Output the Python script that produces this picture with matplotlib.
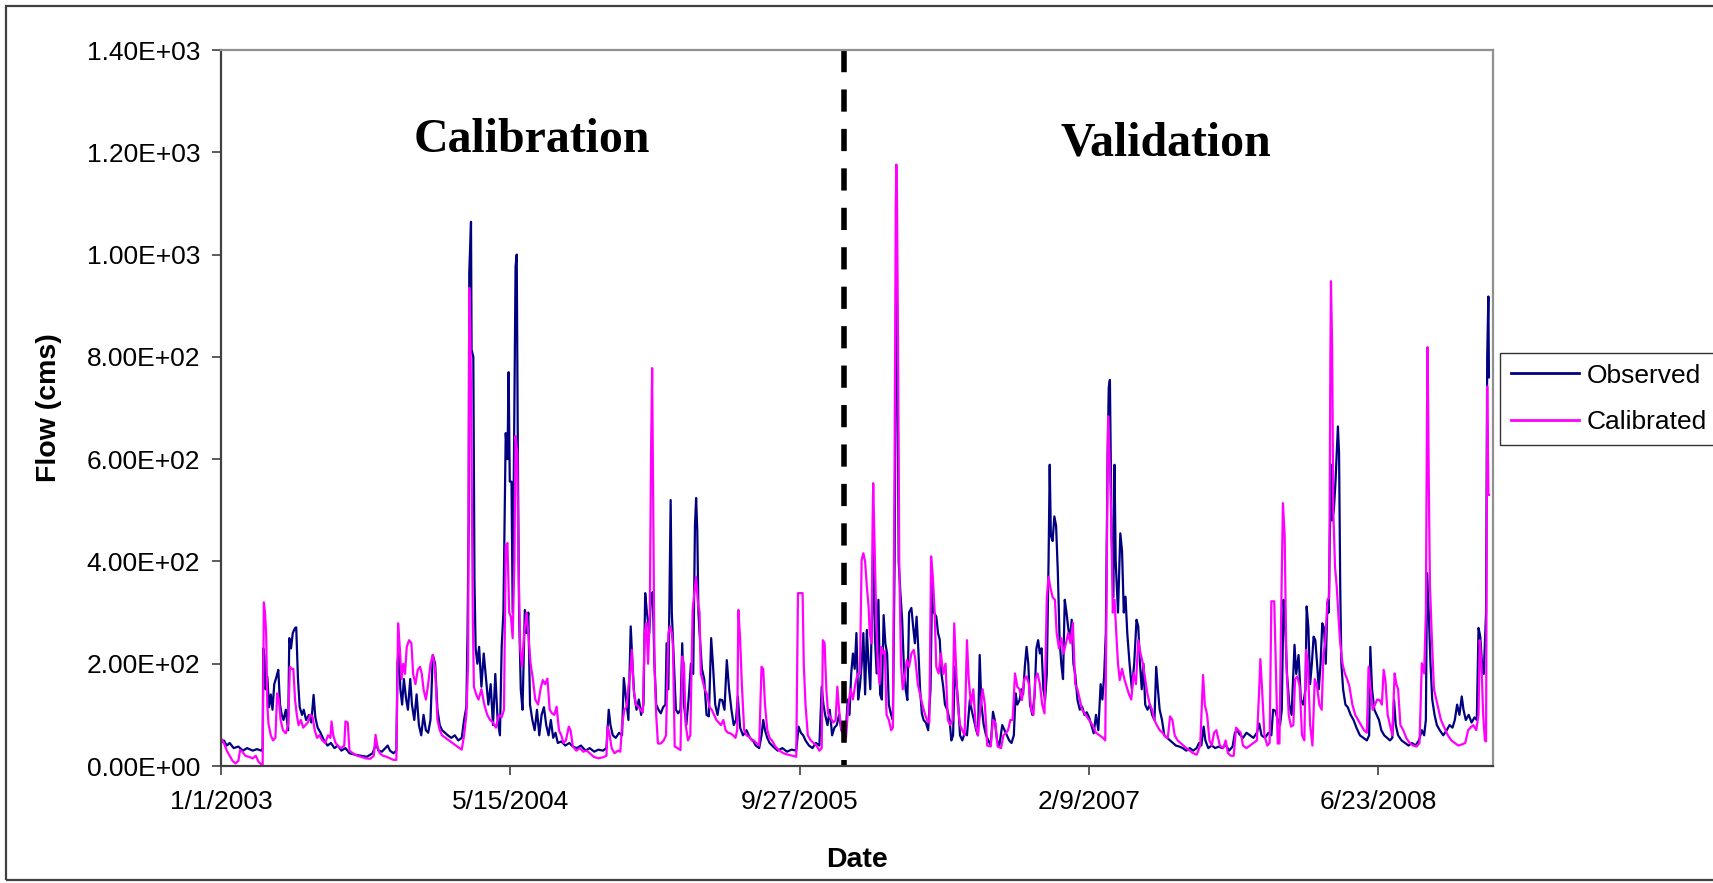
import pandas as pd
from matplotlib import pyplot as plt
from matplotlib.patches import Rectangle
from matplotlib.ticker import FuncFormatter

# Daily flow (cms), as (days since 1/1/2003, flow) pairs
observed = [
    (0, 45), (5, 50), (10, 40), (15, 45), (22, 35), (30, 38), (38, 30), (45, 35), (55, 30), (62, 33),
    (70, 30), (72, 35), (73, 230), (75, 215), (77, 150), (80, 175), (83, 115), (86, 140), (89, 110), (92, 160),
    (96, 175), (99, 188), (102, 120), (105, 100), (108, 90), (112, 110), (116, 70), (118, 250), (121, 230), (124, 260),
    (128, 270), (130, 271), (133, 170), (136, 115), (140, 100), (143, 110), (147, 90), (152, 100), (156, 85), (160, 139),
    (163, 95), (167, 75), (172, 65), (178, 50), (184, 40), (190, 45), (196, 35), (202, 40), (208, 30), (215, 35),
    (222, 25), (232, 22), (242, 20), (252, 18), (262, 25), (268, 44), (272, 30), (278, 28), (284, 35), (288, 40),
    (292, 30), (298, 25), (303, 30), (305, 200), (307, 230), (310, 150), (313, 120), (316, 170), (320, 130), (323, 110),
    (327, 170), (330, 120), (334, 90), (338, 140), (342, 80), (346, 60), (350, 100), (354, 70), (358, 65), (362, 90),
    (366, 217), (370, 200), (374, 110), (378, 80), (382, 70), (387, 65), (392, 60), (398, 55), (404, 60), (410, 50),
    (416, 55), (420, 90), (424, 115), (426, 260), (428, 480), (429, 965), (432, 1064), (433, 814), (436, 800), (438, 364),
    (440, 230), (443, 200), (446, 233), (450, 155), (454, 220), (458, 170), (462, 120), (466, 160), (470, 80), (474, 180),
    (478, 90), (482, 60), (485, 233), (488, 300), (492, 651), (495, 600), (497, 770), (499, 556), (502, 556), (504, 300),
    (507, 700), (509, 977), (511, 1000), (513, 600), (515, 305), (518, 150), (521, 110), (525, 305), (528, 260), (531, 300),
    (534, 120), (538, 90), (542, 70), (546, 110), (550, 60), (554, 100), (558, 115), (562, 80), (566, 60), (570, 90),
    (574, 55), (578, 65), (582, 45), (588, 48), (595, 40), (602, 45), (608, 38), (615, 35), (622, 40), (630, 30),
    (637, 35), (645, 28), (652, 32), (660, 30), (666, 35), (670, 110), (673, 80), (677, 60), (682, 55), (688, 65),
    (693, 60), (696, 172), (700, 130), (704, 90), (708, 273), (711, 200), (714, 140), (718, 110), (722, 130), (726, 100),
    (730, 120), (733, 338), (736, 300), (740, 260), (743, 330), (746, 340), (749, 200), (752, 120), (756, 110), (760, 103),
    (764, 115), (768, 120), (770, 240), (773, 150), (777, 520), (779, 300), (782, 220), (786, 110), (790, 103), (794, 110),
    (797, 240), (800, 120), (804, 80), (808, 130), (812, 200), (816, 180), (819, 470), (821, 524), (823, 460), (825, 300),
    (827, 260), (831, 190), (835, 170), (839, 100), (843, 97), (847, 250), (850, 200), (854, 120), (858, 100), (862, 130),
    (866, 129), (870, 110), (874, 207), (878, 150), (882, 110), (886, 80), (890, 90), (893, 136), (897, 75), (902, 60),
    (908, 70), (914, 55), (919, 50), (924, 40), (930, 35), (934, 60), (937, 90), (940, 70), (944, 55), (948, 45),
    (954, 38), (962, 30), (970, 35), (978, 28), (986, 32), (994, 30), (998, 77), (1002, 65), (1006, 60), (1010, 50),
    (1016, 40), (1022, 35), (1028, 45), (1034, 40), (1038, 155), (1041, 120), (1044, 100), (1048, 80), (1052, 110), (1056, 60),
    (1060, 75), (1064, 80), (1068, 100), (1072, 70), (1076, 64), (1080, 75), (1083, 130), (1086, 100), (1089, 181), (1092, 220),
    (1095, 190), (1098, 260), (1101, 130), (1104, 155), (1107, 200), (1110, 260), (1113, 140), (1116, 266), (1119, 200), (1122, 150),
    (1125, 300), (1127, 429), (1130, 250), (1133, 181), (1136, 325), (1139, 140), (1142, 130), (1145, 295), (1148, 240), (1151, 220),
    (1154, 120), (1158, 100), (1161, 90), (1164, 400), (1166, 834), (1167, 1033), (1169, 801), (1171, 400), (1174, 338), (1177, 286),
    (1180, 194), (1183, 150), (1186, 129), (1189, 300), (1193, 309), (1196, 273), (1199, 240), (1202, 292), (1205, 227), (1208, 150),
    (1211, 103), (1214, 90), (1218, 85), (1222, 70), (1226, 150), (1229, 370), (1232, 300), (1236, 292), (1239, 260), (1242, 247),
    (1245, 180), (1248, 155), (1251, 120), (1255, 110), (1259, 90), (1262, 50), (1265, 60), (1268, 194), (1271, 160), (1274, 120),
    (1277, 60), (1281, 50), (1285, 64), (1289, 60), (1294, 129), (1297, 110), (1301, 90), (1305, 70), (1308, 60), (1311, 217),
    (1314, 120), (1318, 80), (1322, 60), (1326, 50), (1330, 40), (1334, 106), (1337, 90), (1341, 50), (1345, 40), (1350, 80),
    (1354, 70), (1358, 60), (1362, 50), (1366, 45), (1370, 60), (1373, 142), (1376, 120), (1380, 129), (1383, 150), (1386, 140),
    (1389, 194), (1392, 233), (1395, 200), (1398, 120), (1402, 100), (1406, 140), (1409, 230), (1412, 246), (1415, 220), (1418, 230),
    (1421, 150), (1424, 129), (1427, 180), (1430, 400), (1432, 589), (1434, 450), (1437, 440), (1440, 488), (1443, 470), (1446, 380),
    (1449, 250), (1452, 200), (1455, 170), (1458, 325), (1461, 300), (1464, 270), (1467, 246), (1470, 286), (1473, 200), (1476, 180),
    (1480, 129), (1484, 110), (1488, 116), (1492, 100), (1496, 105), (1500, 95), (1504, 80), (1508, 64), (1512, 100), (1516, 70),
    (1520, 160), (1523, 130), (1526, 175), (1529, 260), (1532, 600), (1534, 740), (1536, 755), (1539, 450), (1542, 330), (1544, 589),
    (1546, 400), (1550, 300), (1554, 455), (1557, 420), (1560, 300), (1563, 331), (1566, 260), (1570, 200), (1574, 150), (1578, 200),
    (1582, 286), (1585, 273), (1588, 200), (1591, 150), (1594, 200), (1597, 120), (1601, 110), (1605, 120), (1609, 100), (1613, 90),
    (1616, 194), (1619, 150), (1622, 110), (1626, 90), (1630, 60), (1635, 55), (1640, 50), (1645, 45), (1650, 40), (1656, 38),
    (1662, 35), (1668, 30), (1674, 35), (1680, 30), (1686, 35), (1690, 45), (1694, 40), (1698, 77), (1701, 50), (1706, 35),
    (1712, 40), (1718, 35), (1724, 38), (1730, 35), (1736, 42), (1742, 30), (1748, 38), (1752, 65), (1756, 70), (1760, 62),
    (1766, 55), (1772, 65), (1778, 60), (1784, 55), (1790, 65), (1794, 83), (1798, 60), (1804, 55), (1810, 65), (1815, 60),
    (1818, 110), (1822, 108), (1826, 90), (1830, 80), (1833, 110), (1836, 325), (1839, 273), (1842, 180), (1846, 120), (1850, 100),
    (1855, 237), (1858, 180), (1862, 217), (1866, 130), (1870, 120), (1874, 150), (1876, 312), (1879, 270), (1882, 160), (1885, 200),
    (1888, 253), (1891, 246), (1894, 200), (1897, 150), (1900, 200), (1903, 279), (1906, 270), (1909, 200), (1912, 320), (1914, 300),
    (1916, 450), (1918, 589), (1920, 480), (1923, 500), (1926, 560), (1930, 664), (1932, 612), (1934, 350), (1936, 200), (1939, 150),
    (1943, 120), (1947, 115), (1952, 100), (1957, 90), (1962, 75), (1968, 60), (1974, 55), (1980, 50), (1984, 60), (1986, 233),
    (1989, 150), (1993, 110), (1997, 100), (2001, 90), (2005, 70), (2010, 60), (2015, 55), (2020, 50), (2024, 55), (2027, 129),
    (2030, 80), (2034, 60), (2040, 50), (2046, 45), (2052, 40), (2058, 45), (2064, 40), (2070, 50), (2075, 70), (2079, 60),
    (2082, 90), (2084, 377), (2087, 300), (2090, 200), (2093, 130), (2097, 100), (2101, 80), (2106, 70), (2112, 60), (2118, 70),
    (2123, 80), (2128, 75), (2132, 90), (2136, 120), (2140, 100), (2144, 136), (2147, 110), (2151, 90), (2156, 100), (2161, 85),
    (2166, 95), (2170, 90), (2173, 270), (2176, 253), (2179, 200), (2182, 180), (2186, 300), (2188, 800), (2190, 918), (2191, 760),
]

calibrated = [
    (0, 54), (5, 45), (10, 30), (15, 20), (20, 10), (25, 5), (30, 10), (33, 31), (37, 28), (42, 20),
    (48, 18), (55, 15), (60, 20), (65, 8), (70, 3), (72, 2), (74, 320), (76, 300), (78, 260), (80, 120),
    (82, 83), (86, 60), (90, 50), (94, 55), (97, 142), (100, 130), (103, 90), (107, 70), (112, 64), (116, 80),
    (119, 194), (122, 190), (125, 190), (128, 129), (131, 100), (134, 80), (138, 90), (142, 75), (146, 80), (150, 85),
    (154, 100), (158, 97), (162, 70), (166, 55), (170, 60), (175, 50), (180, 45), (185, 60), (189, 55), (191, 87),
    (194, 60), (198, 45), (203, 38), (208, 35), (213, 40), (215, 87), (219, 85), (222, 30), (228, 25), (235, 20),
    (242, 18), (250, 15), (258, 14), (264, 20), (267, 61), (270, 40), (274, 25), (280, 20), (286, 18), (292, 15),
    (298, 12), (303, 12), (306, 279), (309, 230), (312, 170), (315, 200), (318, 180), (321, 233), (325, 246), (329, 240),
    (332, 180), (336, 160), (340, 188), (344, 194), (347, 180), (350, 150), (354, 130), (358, 160), (362, 200), (366, 217),
    (370, 190), (374, 90), (378, 70), (382, 60), (388, 55), (394, 50), (400, 45), (406, 40), (412, 35), (416, 32),
    (420, 60), (424, 100), (427, 200), (429, 935), (431, 850), (433, 592), (435, 300), (437, 155), (441, 140), (445, 130),
    (450, 150), (455, 120), (460, 100), (465, 90), (470, 85), (475, 75), (480, 100), (485, 95), (489, 110), (492, 430),
    (495, 436), (498, 300), (501, 292), (504, 250), (507, 400), (509, 645), (512, 612), (514, 400), (517, 230), (520, 194),
    (524, 260), (528, 300), (531, 260), (535, 200), (539, 170), (543, 130), (548, 120), (552, 150), (556, 168), (560, 160),
    (564, 171), (568, 110), (572, 103), (576, 100), (580, 116), (584, 70), (588, 60), (592, 45), (596, 50), (601, 77),
    (604, 70), (608, 38), (614, 30), (620, 35), (626, 28), (632, 30), (637, 25), (644, 18), (652, 15), (660, 17),
    (666, 20), (668, 77), (671, 65), (675, 35), (680, 25), (686, 30), (690, 28), (693, 80), (697, 110), (701, 116),
    (704, 155), (707, 180), (710, 227), (713, 150), (717, 120), (721, 116), (725, 110), (729, 105), (732, 260), (735, 280),
    (738, 200), (741, 300), (743, 600), (745, 778), (747, 500), (749, 200), (752, 100), (755, 44), (760, 44), (765, 50),
    (769, 60), (773, 260), (776, 273), (779, 260), (781, 233), (784, 38), (789, 35), (794, 31), (797, 214), (800, 200),
    (803, 80), (807, 50), (811, 60), (815, 305), (818, 340), (821, 370), (824, 320), (827, 300), (829, 181), (832, 168),
    (836, 150), (840, 140), (844, 115), (848, 110), (852, 100), (856, 90), (860, 85), (864, 80), (868, 90), (872, 70),
    (876, 65), (880, 64), (885, 60), (889, 55), (892, 70), (894, 305), (897, 250), (900, 160), (904, 70), (908, 60),
    (913, 57), (917, 50), (921, 50), (925, 45), (930, 40), (934, 194), (937, 190), (940, 120), (944, 70), (948, 55),
    (952, 50), (958, 38), (965, 30), (972, 25), (980, 22), (988, 20), (994, 18), (997, 338), (1005, 338), (1007, 200),
    (1010, 120), (1014, 60), (1019, 50), (1024, 45), (1029, 40), (1034, 30), (1038, 35), (1040, 246), (1043, 240), (1046, 150),
    (1049, 103), (1053, 95), (1058, 85), (1062, 90), (1065, 155), (1068, 110), (1072, 70), (1076, 60), (1080, 55), (1084, 120),
    (1088, 150), (1092, 130), (1096, 160), (1100, 180), (1104, 180), (1107, 403), (1110, 416), (1113, 400), (1116, 351), (1119, 312),
    (1121, 260), (1124, 240), (1126, 480), (1127, 553), (1129, 450), (1132, 300), (1135, 194), (1138, 160), (1141, 233), (1144, 220),
    (1147, 225), (1150, 100), (1154, 90), (1158, 70), (1161, 75), (1164, 600), (1166, 1100), (1167, 1176), (1168, 1127), (1170, 800),
    (1172, 400), (1175, 200), (1178, 150), (1181, 170), (1185, 207), (1189, 194), (1193, 220), (1197, 227), (1200, 207), (1204, 160),
    (1208, 140), (1212, 120), (1216, 103), (1220, 90), (1224, 85), (1227, 410), (1230, 370), (1233, 305), (1236, 194), (1240, 181),
    (1244, 220), (1248, 180), (1252, 200), (1256, 90), (1260, 80), (1264, 90), (1267, 279), (1270, 200), (1273, 120), (1277, 80),
    (1281, 70), (1285, 60), (1289, 246), (1292, 170), (1296, 120), (1300, 150), (1304, 80), (1308, 60), (1312, 110), (1316, 150),
    (1320, 120), (1324, 40), (1330, 38), (1334, 90), (1338, 85), (1342, 38), (1348, 35), (1352, 60), (1356, 64), (1360, 70),
    (1364, 90), (1368, 90), (1372, 181), (1376, 155), (1380, 150), (1384, 129), (1388, 170), (1392, 175), (1396, 160), (1400, 110),
    (1404, 100), (1407, 170), (1411, 181), (1415, 160), (1419, 120), (1423, 103), (1427, 330), (1430, 370), (1433, 350), (1437, 330),
    (1441, 325), (1444, 260), (1448, 230), (1452, 250), (1456, 220), (1460, 240), (1464, 260), (1468, 240), (1472, 280), (1476, 160),
    (1480, 150), (1484, 130), (1488, 110), (1494, 100), (1500, 90), (1506, 80), (1512, 65), (1518, 60), (1524, 55), (1528, 50),
    (1530, 300), (1532, 600), (1533, 684), (1535, 620), (1538, 500), (1541, 300), (1544, 325), (1547, 260), (1550, 200), (1553, 168),
    (1557, 190), (1561, 170), (1565, 155), (1569, 140), (1573, 130), (1577, 181), (1581, 160), (1585, 246), (1589, 220), (1593, 200),
    (1597, 170), (1601, 140), (1605, 120), (1609, 110), (1613, 90), (1617, 80), (1622, 70), (1627, 65), (1632, 57), (1636, 55),
    (1640, 97), (1644, 90), (1648, 60), (1653, 50), (1658, 45), (1663, 40), (1668, 35), (1674, 30), (1680, 25), (1686, 22),
    (1692, 40), (1697, 178), (1700, 120), (1704, 100), (1708, 50), (1712, 40), (1716, 65), (1720, 70), (1726, 40), (1732, 35),
    (1736, 50), (1740, 25), (1745, 20), (1750, 20), (1754, 75), (1758, 70), (1762, 65), (1766, 40), (1772, 35), (1778, 40),
    (1784, 45), (1790, 50), (1794, 150), (1796, 209), (1799, 150), (1803, 60), (1808, 40), (1812, 45), (1815, 322), (1820, 322),
    (1822, 230), (1826, 44), (1829, 44), (1832, 300), (1835, 514), (1838, 450), (1841, 200), (1845, 100), (1849, 77), (1853, 80),
    (1856, 170), (1860, 175), (1864, 155), (1868, 60), (1872, 50), (1875, 227), (1878, 200), (1882, 80), (1886, 40), (1890, 170),
    (1894, 155), (1898, 120), (1902, 110), (1905, 220), (1908, 240), (1912, 325), (1915, 330), (1917, 800), (1918, 948), (1920, 820),
    (1922, 500), (1925, 390), (1928, 350), (1931, 292), (1934, 240), (1938, 200), (1942, 181), (1946, 170), (1950, 155), (1955, 120),
    (1960, 100), (1965, 90), (1970, 80), (1975, 70), (1980, 65), (1983, 194), (1986, 155), (1990, 110), (1994, 120), (1998, 130),
    (2002, 129), (2006, 120), (2009, 188), (2012, 168), (2016, 100), (2020, 80), (2024, 60), (2028, 181), (2031, 160), (2034, 150),
    (2038, 80), (2043, 70), (2048, 55), (2054, 45), (2060, 40), (2066, 38), (2071, 45), (2075, 201), (2079, 181), (2082, 300),
    (2084, 700), (2085, 819), (2087, 560), (2089, 356), (2092, 260), (2096, 150), (2100, 130), (2104, 110), (2108, 90), (2114, 75),
    (2120, 60), (2126, 50), (2132, 45), (2138, 40), (2144, 42), (2150, 45), (2155, 70), (2159, 75), (2164, 80), (2169, 70),
    (2173, 100), (2175, 246), (2178, 200), (2181, 100), (2184, 50), (2186, 48), (2188, 742), (2190, 530), (2191, 530),
]

start_date = '2003-01-01'
end_date = '2009-01-07'
split_date = '2005-12-13'   # calibration / validation boundary
tick_labels = ['1/1/2003', '5/15/2004', '9/27/2005', '2/9/2007', '6/23/2008']
y_ticks = [0, 200, 400, 600, 800, 1000, 1200, 1400]
period_names = ['Calibration', 'Validation']

start = pd.Timestamp(start_date)


def to_frame(pairs):
    df = pd.DataFrame(pairs, columns=['day', 'flow'])
    df['date'] = start + pd.to_timedelta(df['day'], unit='D')
    return df


obs = to_frame(observed)
cal = to_frame(calibrated)

plt.rcParams['font.family'] = 'Liberation Sans'

W, H = 1713, 883
fig = plt.figure(figsize=(W / 100, H / 100), dpi=100)
ax = fig.add_axes([221 / W, 1 - 766 / H, (1493 - 221) / W, (766 - 50) / H])

ax.plot(obs['date'], obs['flow'], color='#000080', lw=1.6, label='Observed')
ax.plot(cal['date'], cal['flow'], color='#FF00FF', lw=1.6, label='Calibrated')

# dashed divider between the two periods
split = pd.Timestamp(split_date)
ax.plot([split, split], [y_ticks[-1], 0], color='black', lw=4,
        dashes=(4, 3.1), solid_capstyle='butt', clip_on=False)

ax.set_xlim(start, pd.Timestamp(end_date))
ax.set_ylim(y_ticks[0], y_ticks[-1])
ax.set_xticks(pd.to_datetime(tick_labels, format='%m/%d/%Y'))
ax.set_xticklabels(tick_labels)
ax.set_yticks(y_ticks)
ax.yaxis.set_major_formatter(FuncFormatter(lambda v, p: f'{v:.2E}'))

ax.tick_params(axis='both', direction='out', length=6.5, width=1.2,
               color='#404040', labelsize=19)
ax.tick_params(axis='y', pad=8.5)
ax.tick_params(axis='x', pad=11)

for side in ['left', 'bottom']:
    ax.spines[side].set_color('#404040')
    ax.spines[side].set_linewidth(1.6)
for side in ['top', 'right']:
    ax.spines[side].set_color('#909090')
    ax.spines[side].set_linewidth(1.6)

fig.text(49 / W, 1 - 408 / H, 'Flow (cms)', rotation=90, ha='center', va='center',
         fontsize=20.5, fontweight='bold')
fig.text(857 / W, 1 - 867 / H, 'Date', ha='center', va='baseline',
         fontsize=20.5, fontweight='bold')

fig.text(532 / W, 1 - 152 / H, period_names[0], ha='center', va='baseline',
         fontsize=34.5, fontweight='bold', family='Liberation Serif')
fig.text(1166 / W, 1 - 155 / H, period_names[1], ha='center', va='baseline',
         fontsize=34.5, fontweight='bold', family='Liberation Serif')

leg = ax.legend(loc='upper left', bbox_to_anchor=(1500 / W, 1 - 353 / H),
                bbox_transform=fig.transFigure, fontsize=19, frameon=True,
                fancybox=False, shadow=False, edgecolor='black', borderaxespad=0,
                borderpad=0.4, handlelength=2.6, handletextpad=0.3, labelspacing=0.85)
leg.get_frame().set_linewidth(1.0)
for line in leg.get_lines():
    line.set_linewidth(2)

# outer border round the chart; its right side runs off the canvas
fig.patches.append(Rectangle((6 / W, 3 / H), (W + 20) / W, (H - 9) / H,
                             transform=fig.transFigure, fill=False,
                             edgecolor='#404040', lw=1.6, zorder=-1))

fig.savefig('out.png', dpi=100)
